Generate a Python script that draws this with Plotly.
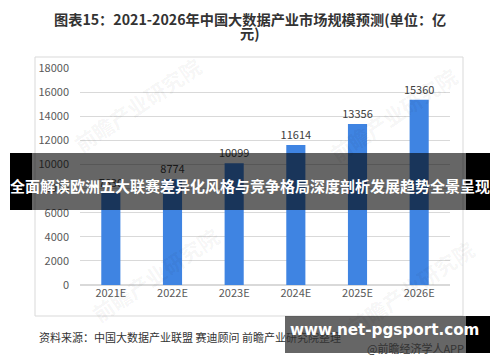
import plotly.graph_objects as go

categories = ["2021E", "2022E", "2023E", "2024E", "2025E", "2026E"]
values = [7630, 8774, 10099, 11614, 13356, 15360]
y_ticks = [0, 2000, 4000, 6000, 8000, 10000, 12000, 14000, 16000, 18000]
y_tick_labels = [str(v) for v in y_ticks]

title_line1 = "图表15：2021-2026年中国大数据产业市场规模预测(单位：亿"
title_line2 = "元)"
source_text = "资料来源：中国大数据产业联盟 赛迪顾问 前瞻产业研究院整理"
banner_text = "全面解读欧洲五大联赛差异化风格与竞争格局深度剖析发展趋势全景呈现"
site_text = "www.net-pgsport.com"
app_text = "@前瞻经济学人APP"
watermark_text = "前瞻产业研究院"

W, H = 500, 362
L, R, T, B = 80, 50, 68, 77
PW, PH = W - L - R, H - T - B

def px(x):
    return (x - L) / PW

def py(y):
    return 1 - (y - T) / PH

FONT = "Noto Sans CJK SC, Noto Sans, sans-serif"

fig = go.Figure()
fig.add_trace(go.Bar(
    x=categories, y=values,
    marker=dict(color="#3F84E2", line=dict(width=0)),
    text=[str(v) for v in values], textposition="outside", constraintext="none",
    textfont=dict(size=11, color="#404040", family=FONT),
    cliponaxis=False, width=0.31,
))

shapes = []
shapes.append(dict(type="rect", xref="paper", yref="paper",
                   x0=px(35), x1=px(463), y0=py(316), y1=py(57),
                   line=dict(color="#D9D9D9", width=1), fillcolor="rgba(0,0,0,0)", layer="below"))
shapes.append(dict(type="rect", xref="paper", yref="paper",
                   x0=px(10), x1=px(32), y0=py(210), y1=py(153),
                   line=dict(width=0), fillcolor="#000000", layer="above"))
shapes.append(dict(type="rect", xref="paper", yref="paper",
                   x0=px(466), x1=px(490), y0=py(210), y1=py(153),
                   line=dict(width=0), fillcolor="#000000", layer="above"))
shapes.append(dict(type="rect", xref="paper", yref="paper",
                   x0=px(32), x1=px(466), y0=py(210), y1=py(153),
                   line=dict(width=0), fillcolor="rgba(0,0,0,0.6)", layer="above"))
shapes.append(dict(type="rect", xref="paper", yref="paper",
                   x0=px(285), x1=px(466), y0=py(353), y1=py(316),
                   line=dict(width=0), fillcolor="rgba(0,0,0,0.6)", layer="above"))
shapes.append(dict(type="rect", xref="paper", yref="paper",
                   x0=px(466), x1=px(490), y0=py(353), y1=py(316),
                   line=dict(width=0), fillcolor="#000000", layer="above"))

annotations = []
for wx, wy in [(137, 105), (393, 115), (155, 275), (410, 288)]:
    annotations.append(dict(text="<b>" + watermark_text + "</b>", x=px(wx), y=py(wy), xref="paper", yref="paper",
                            showarrow=False, textangle=-34,
                            font=dict(size=21, color="rgba(0,0,0,0.05)", family=FONT),
                            xanchor="center", yanchor="middle"))

annotations += [
    dict(text="<b>" + title_line1 + "</b>", x=px(250), y=py(19), xref="paper", yref="paper",
         showarrow=False, font=dict(size=14.2, color="#333333", family=FONT), xanchor="center", yanchor="middle"),
    dict(text="<b>" + title_line2 + "</b>", x=px(250), y=py(33), xref="paper", yref="paper",
         showarrow=False, font=dict(size=14.2, color="#333333", family=FONT), xanchor="center", yanchor="middle"),
    dict(text=source_text, x=px(37), y=py(337), xref="paper", yref="paper",
         showarrow=False, font=dict(size=11, color="#333333", family=FONT), xanchor="left", yanchor="middle"),
    dict(text=app_text, x=px(466), y=py(348), xref="paper", yref="paper",
         showarrow=False, font=dict(size=11, color="#333333", family=FONT), xanchor="right", yanchor="middle"),
    dict(text="<b>" + banner_text + "</b>", x=px(250), y=py(185), xref="paper", yref="paper",
         showarrow=False, font=dict(size=15, color="#FFFFFF", family=FONT), xanchor="center", yanchor="middle"),
    dict(text="<b>" + site_text + "</b>", x=px(384), y=py(330), xref="paper", yref="paper",
         showarrow=False, font=dict(size=15.2, color="#FFFFFF", family="DejaVu Sans, sans-serif"), xanchor="center", yanchor="middle"),
]

fig.update_layout(
    width=W, height=H, margin=dict(l=L, r=R, t=T, b=B, pad=0),
    paper_bgcolor="#FFFFFF", plot_bgcolor="#FFFFFF",
    showlegend=False, shapes=shapes, annotations=annotations,
    xaxis=dict(showgrid=False, showline=False, ticks="", tickfont=dict(size=11, color="#595959", family=FONT)),
    yaxis=dict(range=[0, 18000], tickvals=y_ticks, ticktext=y_tick_labels, showgrid=True, gridcolor="#D9D9D9", gridwidth=1,
               zeroline=True, zerolinecolor="#D9D9D9", showline=False, ticks="", ticklabelstandoff=10,
               tickfont=dict(size=11, color="#595959", family=FONT)),
)

fig.write_html("out.html", config={"displayModeBar": False},
               post_script="document.body.style.margin='0px';document.body.style.overflow='hidden';")
